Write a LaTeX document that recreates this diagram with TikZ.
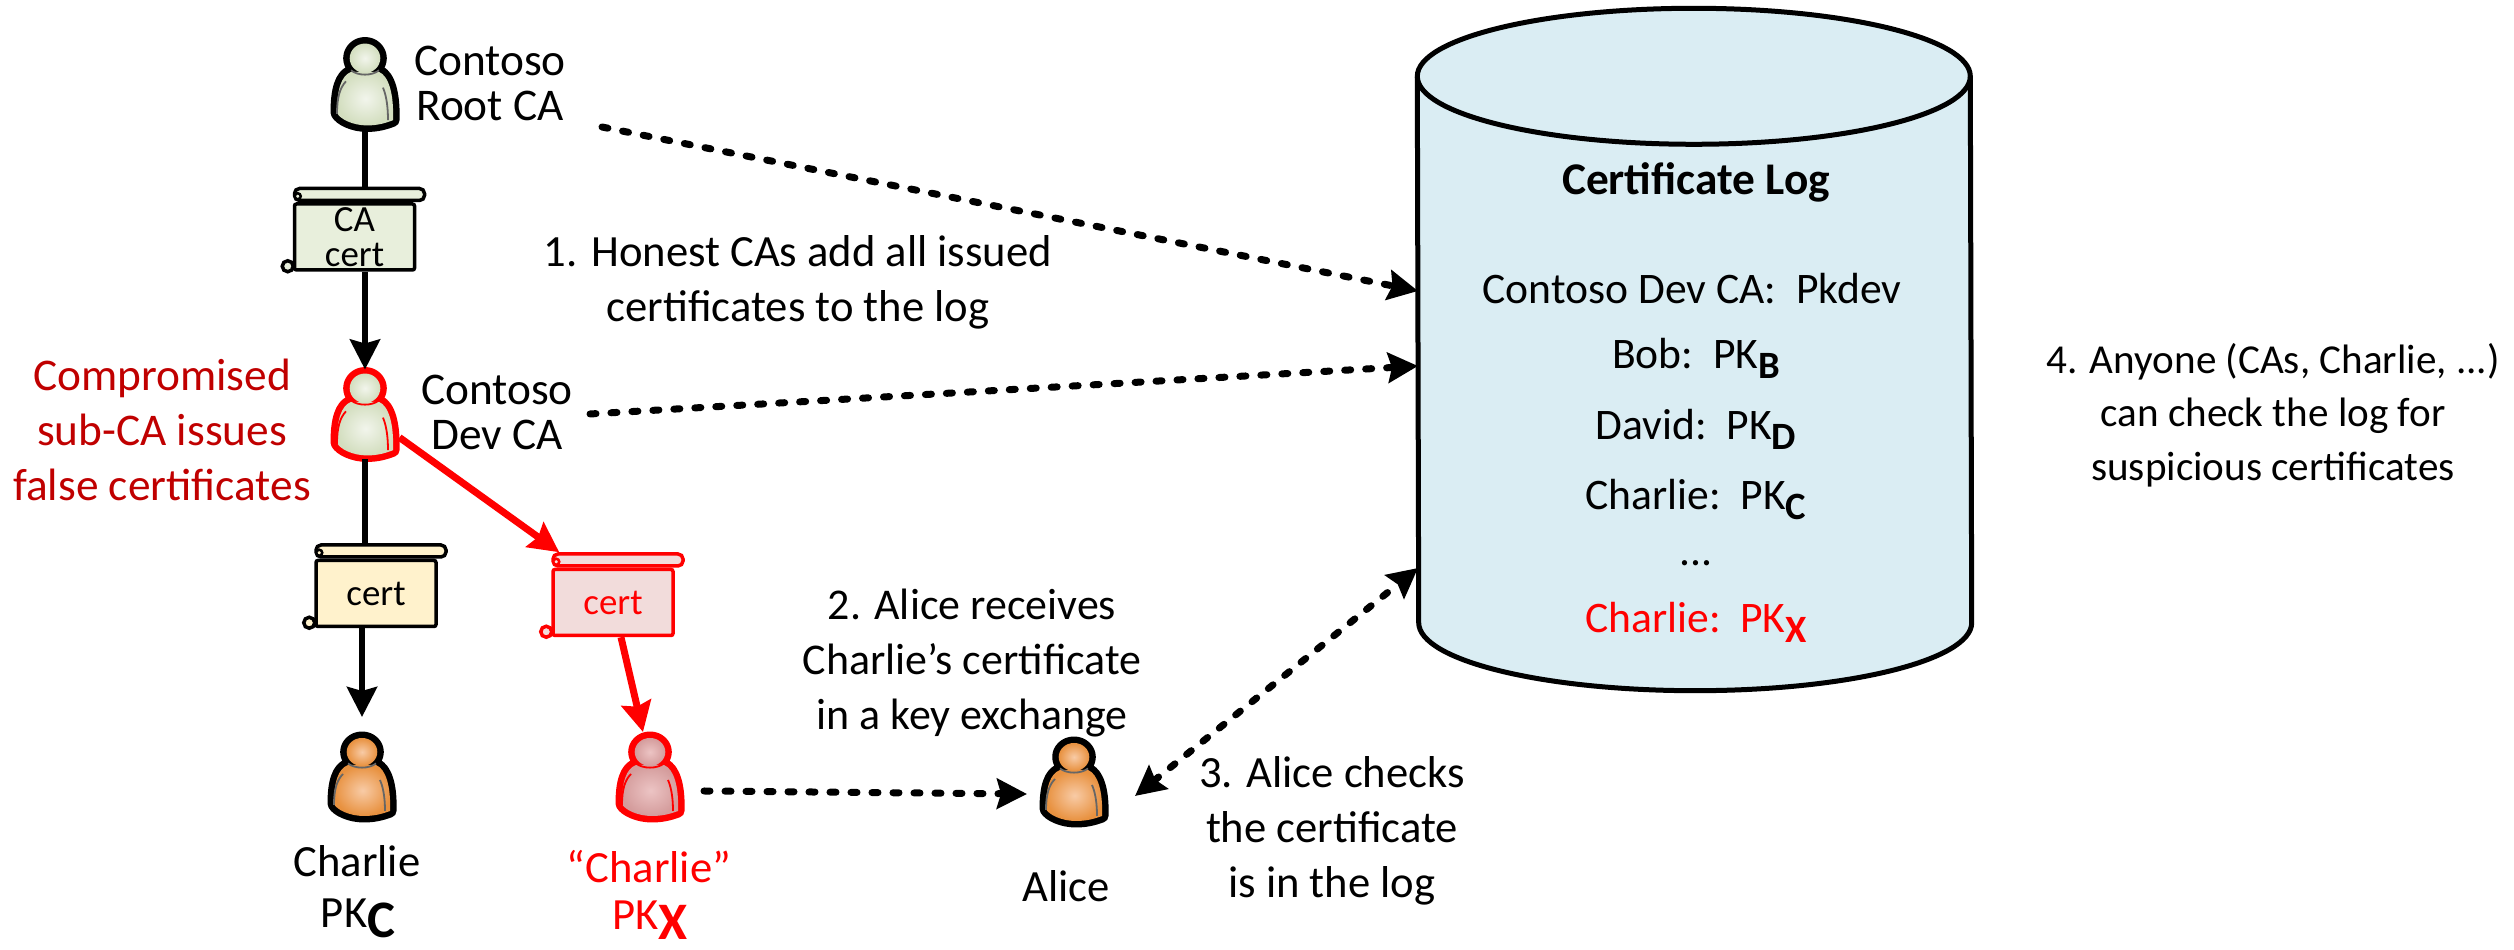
\documentclass[tikz,border=0pt]{standalone}
\usepackage{fontspec}
\setmainfont{Carlito}
\usetikzlibrary{positioning, arrows.meta}

\definecolor{caGreen}{HTML}{E8EFDC}
\definecolor{chYellow}{HTML}{FFF2CC}
\definecolor{fakePink}{HTML}{F2DCDB}
\definecolor{logBlue}{HTML}{DAEDF3}
\definecolor{darkRed}{HTML}{C00000}
\definecolor{caInner}{HTML}{F2F5EC}
\definecolor{caOuter}{HTML}{D3DEBF}
\definecolor{chInner}{HTML}{F8CBA6}
\definecolor{chOuter}{HTML}{E8913F}
\definecolor{fakeInner}{HTML}{ECC4C4}
\definecolor{fakeOuter}{HTML}{D49C9C}

\newcommand{\pkname}[2][\fontsize{11}{11}\selectfont]{PK\raisebox{-.22em}{#1\bfseries #2}}

\tikzset{
  > = {Stealth[length = .3cm, width = .3cm, inset = .04cm]},
  textLabel/.style = {align = center, inner sep = 0pt, font = \fontsize{12.7}{15.6}\selectfont},
  tightLabel/.style = {align = center, inner sep = 0pt, font = \fontsize{12.9}{12.8}\selectfont},
  logEntry/.style = {anchor = base, inner sep = 0pt, font = \fontsize{12.4}{15}\selectfont},
  certText/.style = {align = center, font = \fontsize{10.5}{10}\selectfont},
  personBox/.style = {rectangle, inner sep = 0pt, outer sep = 0pt, minimum width = .69cm, minimum height = .9cm},
  solidLink/.style = {line width = .06cm},
  dashLink/.style = {line width = .07cm, line cap = round, dash pattern = on .06cm off .15cm},
  pics/person/.style n args = {4}{code = {
    \node[personBox] (-box) {};
    \draw[#1, line width = .13cm, line join = round]
      (-.14,.12) .. controls (-.24,.08) and (-.28,-.05) .. (-.28,-.27)
      .. controls (-.25,-.33) and (-.12,-.39) .. (.02,-.39)
      .. controls (.12,-.39) and (.2,-.37) .. (.28,-.34)
      .. controls (.29,-.1) and (.24,.08) .. (.14,.12) -- cycle
      (0,.25) ellipse (.153 and .14);
    \shade[inner color = #2, outer color = #3]
      (-.14,.12) .. controls (-.24,.08) and (-.28,-.05) .. (-.28,-.27)
      .. controls (-.25,-.33) and (-.12,-.39) .. (.02,-.39)
      .. controls (.12,-.39) and (.2,-.37) .. (.28,-.34)
      .. controls (.29,-.1) and (.24,.08) .. (.14,.12) -- cycle;
    \shade[inner color = #2, outer color = #3] (0,.25) ellipse (.153 and .14);
    \draw[#4, line width = .018cm] (-.14,.135) .. controls (-.07,.08) and (.07,.08) .. (.14,.135);
    \draw[#4, line width = .018cm] (-.28,-.28) .. controls (-.28,-.12) and (-.25,-.03) .. (-.19,.03);
    \draw[#4, line width = .018cm] (.18,-.03) .. controls (.22,-.12) and (.23,-.24) .. (.23,-.34);
  }},
  pics/certScroll/.style n args = {3}{code = {
    \node[certText, rectangle, draw = #1, fill = #2, text = #1, line width = .035cm, rounded corners = .02cm,
      minimum width = 1.2cm, minimum height = .66cm, inner sep = 0pt] (-body) {#3};
    \node[rectangle, draw = #1, fill = #2, line width = .035cm, rounded corners = .05cm,
      minimum width = 1.3cm, minimum height = .12cm, inner sep = 0pt, anchor = south west] (-roll) at (-body.north west) {};
    \draw[#1, fill = #2, line width = .035cm] ([shift = {(-.05,.055)}]-body.south west) circle (.055);
    \draw[#1, fill = #2, line width = .025cm] ([shift = {(.05,.06)}]-roll.south west) circle (.03);
  }}
}

\begin{document}
\begin{tikzpicture}
  \useasboundingbox (0,0) rectangle (25.14,9.5);

  \node[rectangle, minimum width = 5.53cm, minimum height = 6.81cm, inner sep = 0pt] (certLog) at (16.945,6.005) {};
  \draw[line width = .05cm, fill = logBlue] ([yshift = -.68cm]certLog.north west) arc (180:0:2.765 and .68)
    -- ([yshift = .68cm]certLog.south east) arc (0:-180:2.765 and .68) -- cycle;
  \draw[line width = .05cm] ([yshift = -.68cm]certLog.north west) arc (180:360:2.765 and .68);
  \coordinate (rootIn) at (14.18,6.59);
  \coordinate (devIn) at (14.18,5.84);
  \coordinate (aliceIn) at (14.18,3.82);

  \node[logEntry, font = \fontsize{12.9}{15}\selectfont\bfseries] (logTitle) at (16.96,7.55) {Certificate Log};
  \node[logEntry] (logDev) at (16.92,6.46) {Contoso Dev CA:~~Pkdev};
  \node[logEntry] (logBob) at (16.96,5.81) {Bob:~~\pkname{B}};
  \node[logEntry] (logDavid) at (16.96,5.10) {David:~~\pkname{D}};
  \node[logEntry] (logCharlie) at (16.96,4.40) {Charlie:~~\pkname{C}};
  \node[logEntry] (logDots) at (16.96,3.84) {...};
  \node[logEntry, text = red] (logFake) at (16.96,3.17) {Charlie:~~\pkname{X}};

  \pic[yscale = 1.05] (rootCA) at (3.65,8.655) {person = {black}{caInner}{caOuter}{black!60}};
  \pic[yscale = 1.05] (devCA) at (3.65,5.355) {person = {red}{caInner}{caOuter}{red}};
  \pic (charlie) at (3.62,1.73) {person = {black}{chInner}{chOuter}{black!60}};
  \pic (fake) at (6.5,1.73) {person = {red}{fakeInner}{fakeOuter}{red}};
  \pic (alice) at (10.74,1.68) {person = {black}{chInner}{chOuter}{black!60}};

  \pic (caCert) at (3.545,7.13) {certScroll = {black}{caGreen}{CA\\cert}};
  \pic (chCert) at (3.76,3.565) {certScroll = {black}{chYellow}{cert}};
  \pic (fakeCert) at (6.13,3.475) {certScroll = {red}{fakePink}{cert}};

  \node[tightLabel] (rootLabel) at (4.90,8.67) {Contoso\\Root CA};
  \node[tightLabel] (devLabel) at (4.97,5.38) {Contoso\\Dev CA};
  \node[textLabel, text = darkRed, font = \fontsize{12.9}{15.6}\selectfont] (subLabel) at (1.62,5.20) {Compromised\\sub-CA issues\\false certificates};
  \node[logEntry, font = \fontsize{12.7}{15}\selectfont] (charlieName) at (3.57,0.73) {Charlie};
  \node[logEntry, font = \fontsize{12.7}{15}\selectfont] (charlieKey) at (3.58,0.22) {\pkname[\fontsize{15}{15}\selectfont]{C}};
  \node[logEntry, text = red, font = \fontsize{12.7}{15}\selectfont] (fakeName) at (6.49,0.67) {“Charlie”};
  \node[logEntry, text = red, font = \fontsize{12.7}{15}\selectfont] (fakeKey) at (6.50,0.2) {\pkname[\fontsize{15}{15}\selectfont]{X}};
  \node[textLabel] (aliceLabel) at (10.66,0.64) {Alice};
  \node[textLabel] (stepOne) at (7.98,6.68) {1. Honest CAs add all issued\\certificates to the log};
  \node[textLabel, font = \fontsize{12.5}{15.6}\selectfont] (stepTwo) at (9.72,2.87) {2. Alice receives\\Charlie’s certificate\\in a key exchange};
  \node[textLabel] (stepThree) at (13.32,1.19) {3. Alice checks\\the certificate\\is in the log};
  \node[textLabel, font = \fontsize{11.7}{15.2}\selectfont] (stepFour) at (22.73,5.35) {4. Anyone (CAs, Charlie, ...)\\can check the log for\\suspicious certificates};

  \coordinate (rootOut) at (6.02,8.23);
  \coordinate (devOut) at (5.90,5.36);
  \coordinate (fakeOut) at (7.04,1.59);
  \coordinate (aliceOut) at (11.35,1.54);
  \coordinate (aliceIn2) at (10.27,1.56);

  \draw[solidLink] (rootCA-box) -- (rootCA-box |- caCert-roll.north);
  \draw[solidLink] (rootCA-box |- caCert-body.south) edge[->] (devCA-box.north);
  \draw[solidLink] (devCA-box) -- (devCA-box |- chCert-roll.north);
  \draw[solidLink] (charlie-box |- chCert-body.south) edge[->, shorten > = .15cm] (charlie-box.north);
  \draw[solidLink, red, line width = .07cm] ([yshift = -.23cm]devCA-box.east) edge[->] ([xshift = .08cm]fakeCert-roll.north west);
  \draw[solidLink, red, line width = .07cm] ([xshift = .08cm]fakeCert-body.south) edge[->] ([xshift = -.07cm]fake-box.north);

  \draw[dashLink] (rootOut) edge[->] (rootIn);
  \draw[dashLink] (devOut) edge[->] (devIn);
  \draw[dashLink] (fakeOut) edge[->] (aliceIn2);
  \draw[dashLink] (aliceOut) edge[<->] (aliceIn);
\end{tikzpicture}
\end{document}
